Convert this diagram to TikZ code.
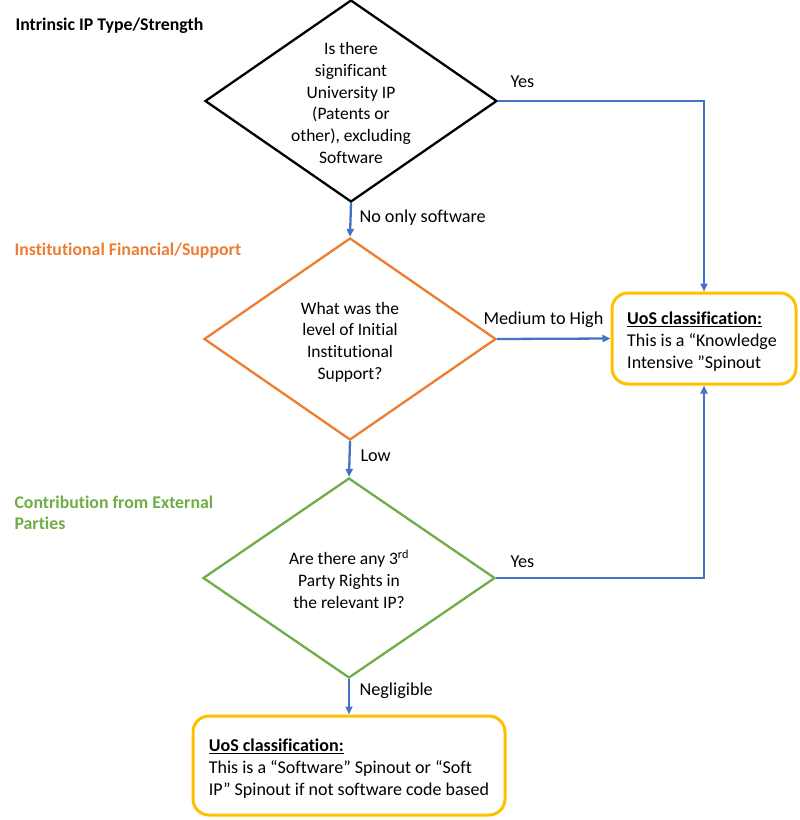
\documentclass[tikz,border=0pt]{standalone}
\usepackage{fontspec}
\setmainfont{Carlito}[Ligatures=NoCommon]
\usetikzlibrary{shapes.geometric,arrows.meta}
\definecolor{ipblue}{HTML}{4472C4}
\definecolor{suporange}{HTML}{ED7D31}
\definecolor{extgreen}{HTML}{70AD47}
\definecolor{uosgold}{HTML}{FFC000}
\begin{document}
\begin{tikzpicture}[x=1pt,y=-1pt,
  question/.style={diamond,draw,line width=2.3pt,minimum width=292pt,minimum height=202pt,inner sep=0pt},
  qtext/.style={align=center,font=\fontsize{17.5}{21.7}\selectfont},
  uos/.style={draw=uosgold,line width=3pt,rounded corners=16pt,inner sep=0pt},
  uostext/.style={align=left,font=\fontsize{18}{22}\selectfont},
  flow/.style={draw=ipblue,line width=2.3pt,-{Triangle[length=8pt,width=7pt]}},
  answer/.style={anchor=west,font=\fontsize{18.2}{21}\selectfont},
  heading/.style={anchor=west,align=left,font=\fontsize{17.8}{20.5}\selectfont\bfseries}]
  \useasboundingbox (0,0) rectangle (800,820);
  \node[heading] (h1) at (12,26) {Intrinsic IP Type/Strength};
  \node[heading,text=suporange] (h2) at (11,251) {Institutional Financial/Support};
  \node[heading,text=extgreen] (h3) at (11,513) {Contribution from External\\Parties};
  \node[question] (ip) at (351,101) {};
  \node[qtext,yshift=-2pt] (iptext) at (ip) {Is there\\significant\\University IP\\(Patents or\\other), excluding\\Software};
  \node[question,draw=suporange] (sup) at (350,339) {};
  \node[qtext,yshift=-3pt] (suptext) at (sup) {What was the\\level of Initial\\Institutional\\Support?};
  \node[question,draw=extgreen,minimum height=200pt] (ext) at (349,578) {};
  \node[qtext,yshift=-1pt] (exttext) at (ext) {Are there any 3\textsuperscript{rd}\\Party Rights in\\the relevant IP?};
  \node[uos,minimum width=184pt,minimum height=91pt] (kis) at (704,338.5) {};
  \node[uostext,xshift=-2pt,yshift=-3pt] (kistext) at (kis) {\underline{\textbf{UoS classification:}}\\This is a “Knowledge\\Intensive ”Spinout};
  \node[uos,minimum width=312pt,minimum height=99pt] (soft) at (349,765.5) {};
  \node[uostext,yshift=-3.5pt] (softtext) at (soft) {\underline{\textbf{UoS classification:}}\\This is a “Software” Spinout or “Soft\\IP” Spinout if not software code based};
  \draw[flow] (ip.east) -| (kis.north);
  \draw[flow] (ip.south) -- (sup.north);
  \draw[flow] (sup.east) -- (kis.west);
  \draw[flow] (sup.south) -- (ext.north);
  \draw[flow] (ext.east) -| (kis.south);
  \draw[flow] (ext.south) -- (soft.north);
  \node[answer] (yes1) at (507,82) {Yes};
  \node[answer] (noonly) at (356,218) {No only software};
  \node[answer] (medhigh) at (480,320) {Medium to High};
  \node[answer] (low) at (357,456) {Low};
  \node[answer] (yes2) at (507,562) {Yes};
  \node[answer] (negl) at (356,691) {Negligible};
\end{tikzpicture}
\end{document}
